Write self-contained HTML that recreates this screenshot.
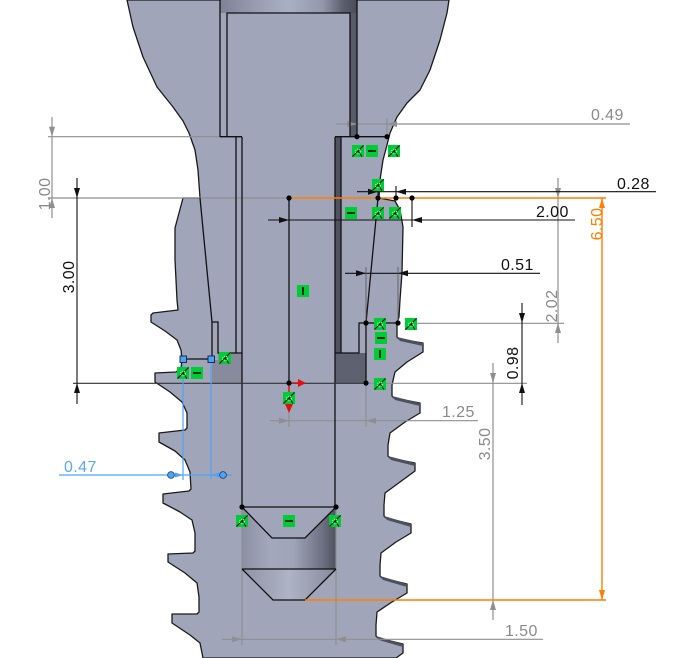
<!DOCTYPE html>
<html><head><meta charset="utf-8"><style>
html,body{margin:0;padding:0;background:#fff;}
svg{display:block;}
text{font-family:"Liberation Sans",sans-serif;font-size:16px;letter-spacing:0.4px;}
</style></head><body>
<svg width="677" height="658" viewBox="0 0 677 658" xmlns="http://www.w3.org/2000/svg">
<defs>
<linearGradient id="gTop" x1="0" x2="1" y1="0" y2="0">
 <stop offset="0" stop-color="#7e8296"/>
 <stop offset="0.25" stop-color="#979bb0"/>
 <stop offset="0.5" stop-color="#aab0c4"/>
 <stop offset="0.75" stop-color="#9397ab"/>
 <stop offset="0.9" stop-color="#5b5e6c"/>
 <stop offset="1" stop-color="#4a4c57"/>
</linearGradient>
<linearGradient id="gCyl" x1="0" x2="1" y1="0" y2="0">
 <stop offset="0" stop-color="#8b8fa3"/>
 <stop offset="0.3" stop-color="#a3a8bc"/>
 <stop offset="0.55" stop-color="#9fa4b8"/>
 <stop offset="0.85" stop-color="#6e7182"/>
 <stop offset="1" stop-color="#4f5261"/>
</linearGradient>
<linearGradient id="gCone" x1="0" x2="1" y1="0" y2="0">
 <stop offset="0" stop-color="#8f93a7"/>
 <stop offset="0.5" stop-color="#aeb3c5"/>
 <stop offset="1" stop-color="#868a9c"/>
</linearGradient>
<symbol id="co" viewBox="0 0 12 12"><rect width="12" height="12" fill="#00cc33"/><path d="M0.5,11.5 L11.5,0.5 M6,6 L10,11.5" stroke="#000" stroke-width="0.9" fill="none"/><circle cx="6" cy="6.5" r="2.4" fill="none" stroke="#fff" stroke-width="0.8" stroke-dasharray="1 1"/></symbol>
<symbol id="hz" viewBox="0 0 12 12"><rect width="12" height="12" fill="#00cc33"/><path d="M2,6 H10" stroke="#000" stroke-width="1.6"/></symbol>
<symbol id="vt" viewBox="0 0 12 12"><rect width="12" height="12" fill="#00cc33"/><path d="M6,2 V10" stroke="#000" stroke-width="1.6"/></symbol>
</defs>

<!-- body -->
<path d="M127,0 L133,27 L143,57 L157,87 L173,107 L183,121 L189,133 L195,150 L198,170 L200,198 L183,198 L175,228 L175,260 L177,300 L178,310 L153,313 L151,315 L151,322 L165,331 L177,340 L181,350 L182,360 L181,368 L176,372 L155,373 L155,382 L170,392 L182,402 L187,413 L187,428 L185,430 L159,433 L159,442 L175,451 L185,460 L190,472 L191,489 L189,491 L163,494 L163,503 L180,512 L192,520 L195,533 L195,551 L193,553 L168,554 L168,562 L185,573 L197,583 L199,597 L199,612 L197,614 L172,614 L172,623 L190,635 L200,643 L203,658 L396,658 L403,653 L403,644 L378,638 L376,636 L376,625 L377,612 L392,602 L407,593 L407,584 L382,578 L380,576 L380,565 L381,553 L396,542 L411,533 L411,524 L386,518 L384,516 L384,505 L385,493 L400,482 L415,471 L415,463 L390,458 L388,456 L388,445 L390,433 L405,422 L420,413 L420,403 L394,398 L392,396 L392,385 L395,372 L407,362 L423,352 L423,343 L399,339 L397,337 L397,323 L399,317 L400,300 L402,273 L403,227 L400,210 L395,201 L379,198 L380,180 L383,160 L387,145 L390,133 L397,117 L407,103 L420,90 L430,70 L440,40 L447,13 L449,0 Z" fill="#a0a5ba" stroke="#1a1a1a" stroke-width="1.3" stroke-linejoin="round"/>

<!-- tooth slivers right -->
<g fill="#4c4f5c">
<polygon points="397,337 423,343 423,346 400,341"/>
<polygon points="392,396 420,403 420,406 395,400"/>
<polygon points="388,456 415,463 415,466 391,460"/>
<polygon points="384,516 411,524 411,527 387,520"/>
<polygon points="380,576 407,584 407,587 383,580"/>
<polygon points="376,636 403,644 403,647 379,640"/>
</g>

<!-- internal shading -->
<rect x="220" y="0" width="137" height="13" fill="url(#gTop)"/>
<rect x="350" y="13" width="7" height="124" fill="#575a69"/>
<rect x="335" y="137" width="6" height="216" fill="#50535f"/>
<rect x="335" y="353" width="31" height="30" fill="#5e6170"/>
<polygon points="218,353 242,353 242,383 212,383 212,360 218,360" fill="#878b9d"/>
<rect x="242" y="507" width="94" height="62" fill="url(#gCyl)"/>
<polygon points="242,507 336,507 305,538 272,538" fill="#a0a5ba"/>
<polygon points="242,569 336,569 305,600 273,600" fill="url(#gCone)"/>

<!-- extension / construction gray lines -->
<g stroke="#8f8f8f" stroke-width="1.2" fill="none">
<path d="M48,136.7 H236"/>
<path d="M48,198 H289"/>
<path d="M336,124 H630"/>
<path d="M357,118 V136 M387,118 V136"/>
<path d="M558,178 V343"/>
<path d="M410,323.3 H564"/>
<path d="M366,383.3 H527"/>
<path d="M493,363 V620"/>
<path d="M270,420.7 H478"/>
<path d="M289,398 V427 M366,383 V427"/>
<path d="M222,639.3 H543"/>
<path d="M242,507 V645 M336,507 V645"/>
<path d="M52,117 V218"/>
</g>

<!-- gray arrows -->
<g fill="#8f8f8f">
<polygon points="357,124 347,121 347,127"/>
<polygon points="387,124 397,121 397,127"/>
<polygon points="558,198 555,188 561,188"/>
<polygon points="558,323 555,333 561,333"/>
<polygon points="493,383 490,373 496,373"/>
<polygon points="493,600 490,610 496,610"/>
<polygon points="289,420.7 279,417.7 279,423.7"/>
<polygon points="366,420.7 376,417.7 376,423.7"/>
<polygon points="242,639.3 232,636.3 232,642.3"/>
<polygon points="336,639.3 346,636.3 346,642.3"/>
<polygon points="52,136.7 49,126.7 55,126.7"/>
<polygon points="52,198 49,208 55,208"/>
</g>

<!-- black sketch lines -->
<g stroke="#111" stroke-width="1.3" fill="none">
<path d="M220,0 V137 M357,0 V137 M227,137 V13 H350 V137"/>
<path d="M220,136.7 H242 M335,136.7 H387"/>
<path d="M236,137 V353 M242,137 V507 M335,137 V507 M341,137 V353"/>
<path d="M212,322 V360 M212,322 H218 V353 H242"/>
<path d="M335,353 H359 V323 H366 V383"/>
<path d="M200,198 L212,322"/>
<path d="M378,198 L366,323"/>
<path d="M366,323 H398"/>
<path d="M289,198 V383"/>
<path d="M242,507 H336 M242,507 L272,538 H305 L336,507"/>
<path d="M242,569 H336 M242,569 L273,600 H305 L336,569"/>
<path d="M183,359 H211"/>
</g>
<path d="M73,383.3 H366" stroke="#333" stroke-width="1.1"/>

<!-- black dimensions -->
<g stroke="#111" stroke-width="1.1" fill="none">
<path d="M357,191.7 H656"/>
<path d="M378,186 V198 M396,186 V198"/>
<path d="M268,220 H575"/>
<path d="M412,198 V227"/>
<path d="M345,273.3 H540"/>
<path d="M366,267 V323 M398,267 V323" stroke="#555" stroke-width="0.8"/>
<path d="M522,303 V405"/>
<path d="M77,178 V404"/>
</g>
<g fill="#111">
<polygon points="378,191.7 368,188.7 368,194.7"/>
<polygon points="396,191.7 406,188.7 406,194.7"/>
<polygon points="289,220 279,217 279,223"/>
<polygon points="412,220 422,217 422,223"/>
<polygon points="366,273.3 356,270.3 356,276.3"/>
<polygon points="398,273.3 408,270.3 408,276.3"/>
<polygon points="522,323 519,313 525,313"/>
<polygon points="522,383 519,393 525,393"/>
<polygon points="77,198 74,188 80,188"/>
<polygon points="77,383 74,393 80,393"/>
</g>

<!-- orange dimension -->
<g stroke="#ff7f00" stroke-width="1.4" fill="none">
<path d="M289,198 H606"/>
<path d="M305,600 H606"/>
<path d="M602,198 V600"/>
</g>
<g fill="#ff7f00">
<polygon points="602,198 599,208 605,208"/>
<polygon points="602,600 599,590 605,590"/>
</g>

<!-- blue -->
<g stroke="#4da3f7" stroke-width="1.2" fill="none">
<path d="M183,364 V480 M211,364 V479"/>
<path d="M59,475 H232"/>
</g>
<g fill="#4da3f7">
<polygon points="183,475 175,472.5 175,477.5"/>
<polygon points="211,475 219,472.5 219,477.5"/>
</g>
<circle cx="171" cy="475" r="3.4" fill="#4da3f7" stroke="#1a3a66" stroke-width="0.8"/>
<circle cx="223" cy="475" r="3.4" fill="#4da3f7" stroke="#1a3a66" stroke-width="0.8"/>
<rect x="180" y="356" width="6.5" height="6.5" fill="#4da3f7" stroke="#10243f" stroke-width="0.9"/>
<rect x="208" y="356" width="6.5" height="6.5" fill="#4da3f7" stroke="#10243f" stroke-width="0.9"/>

<!-- red origin -->
<path d="M289,383 H300 M289,383 V405" stroke="#e01010" stroke-width="1.5"/>
<polygon points="306,383 298,379 298,387" fill="#e01010"/>
<polygon points="289,413 285,404 293,404" fill="#e01010"/>

<!-- dots -->
<g fill="#000">
<circle cx="357" cy="136.7" r="2.6"/><circle cx="387" cy="136.7" r="2.6"/>
<circle cx="289" cy="198" r="2.6"/><circle cx="378" cy="198" r="2.6"/>
<circle cx="396" cy="198" r="2.6"/><circle cx="412" cy="198" r="2.6"/>
<circle cx="289" cy="383" r="2.6"/><circle cx="366" cy="323" r="2.6"/>
<circle cx="398" cy="323" r="2.6"/><circle cx="366" cy="383" r="2.6"/>
<circle cx="242" cy="507" r="2.6"/><circle cx="336" cy="507" r="2.6"/>
</g>

<!-- constraint icons -->
<use href="#co" x="352" y="145" width="12" height="12"/>
<use href="#hz" x="366" y="145" width="12" height="12"/>
<use href="#co" x="388" y="145" width="12" height="12"/>
<use href="#co" x="372" y="179" width="12" height="12"/>
<use href="#hz" x="345" y="207" width="12" height="12"/>
<use href="#co" x="372" y="207" width="12" height="12"/>
<use href="#co" x="389" y="207" width="12" height="12"/>
<use href="#vt" x="297" y="285" width="12" height="12"/>
<use href="#co" x="374" y="318" width="12" height="12"/>
<use href="#co" x="405" y="318" width="12" height="12"/>
<use href="#hz" x="375" y="332" width="12" height="12"/>
<use href="#vt" x="374" y="348" width="12" height="12"/>
<use href="#co" x="374" y="378" width="12" height="12"/>
<use href="#co" x="219" y="352" width="12" height="12"/>
<use href="#co" x="177" y="367" width="12" height="12"/>
<use href="#hz" x="191" y="367" width="12" height="12"/>
<use href="#co" x="283" y="392" width="12" height="12"/>
<use href="#co" x="236" y="515" width="12" height="12"/>
<use href="#hz" x="283" y="515" width="12" height="12"/>
<use href="#co" x="329" y="515" width="12" height="12"/>

<!-- texts -->
<text x="591" y="120" fill="#8a8a8a">0.49</text>
<text x="617" y="189" fill="#111">0.28</text>
<text x="536" y="217" fill="#111">2.00</text>
<text x="501" y="270" fill="#111">0.51</text>
<text x="442" y="417" fill="#8a8a8a">1.25</text>
<text x="505" y="636" fill="#8a8a8a">1.50</text>
<text x="64" y="472" fill="#5aa9f5">0.47</text>
<text transform="translate(557,306) rotate(-90)" text-anchor="middle" fill="#8a8a8a">2.02</text>
<text transform="translate(518,363) rotate(-90)" text-anchor="middle" fill="#111">0.98</text>
<text transform="translate(490,444) rotate(-90)" text-anchor="middle" fill="#8a8a8a">3.50</text>
<text transform="translate(602,224) rotate(-90)" text-anchor="middle" fill="#ff7f00">6.50</text>
<text transform="translate(50,194) rotate(-90)" text-anchor="middle" fill="#8a8a8a">1.00</text>
<text transform="translate(74,277) rotate(-90)" text-anchor="middle" fill="#111">3.00</text>
</svg>
</body></html>
